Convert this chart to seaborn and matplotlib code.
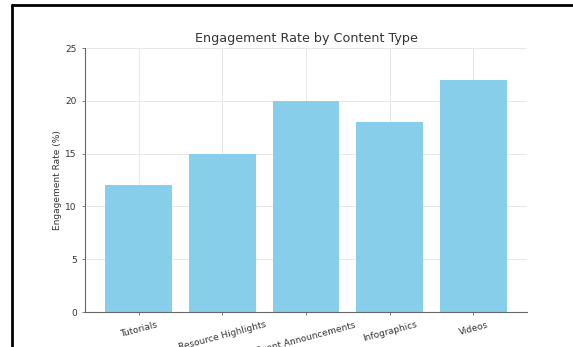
import matplotlib
matplotlib.use("Agg")
import matplotlib.pyplot as plt
from matplotlib.lines import Line2D
import seaborn as sns
import pandas as pd

content_types = ["Tutorials", "Resource Highlights", "Event Announcements", "Infographics", "Videos"]
engagement_rates = [12, 15, 20, 18, 22]

sns.set_style("white")
plt.rcParams["font.family"] = ["DejaVu Sans"]

df = pd.DataFrame({"Content Type": content_types, "Engagement Rate (%)": engagement_rates})

fig = plt.figure(figsize=(5.73, 3.47), dpi=100)
ax = fig.add_axes([85 / 573, 1 - 312 / 347, (527 - 85) / 573, (312 - 48) / 347])

sns.barplot(data=df, x="Content Type", y="Engagement Rate (%)", color="#87CEEB",
            saturation=1, width=0.8, linewidth=0, ax=ax, zorder=2)

ax.set_xlim(-0.64, 4.64)
ax.set_ylim(0, 25)
ax.set_yticks([0, 5, 10, 15, 20, 25])
ax.grid(True, color="#e8e8e8", linewidth=0.7, zorder=0)
ax.set_axisbelow(True)

for side in ["top", "right"]:
    ax.spines[side].set_visible(False)
for side in ["left", "bottom"]:
    ax.spines[side].set_color("#666666")
    ax.spines[side].set_linewidth(0.8)

ax.tick_params(axis="both", which="major", labelsize=6.5, colors="#666666",
               labelcolor="#333333", length=2.5, width=0.6, direction="out",
               bottom=True, left=True)
plt.setp(ax.get_xticklabels(), rotation=15, ha="center")

ax.set_xlabel("")
ax.set_ylabel("Engagement Rate (%)", fontsize=6.5, color="#333333", labelpad=2)
ax.set_title("Engagement Rate by Content Type", fontsize=9.2, color="#333333", pad=4)

# dark frame along the top and left edges
fig.add_artist(Line2D([12 / 573, 1], [1 - 5 / 347, 1 - 5 / 347], transform=fig.transFigure,
                      color="black", linewidth=2))
fig.add_artist(Line2D([12 / 573, 12 / 573], [0, 1 - 5 / 347], transform=fig.transFigure,
                      color="black", linewidth=2))

fig.savefig("out.png", dpi=100)
